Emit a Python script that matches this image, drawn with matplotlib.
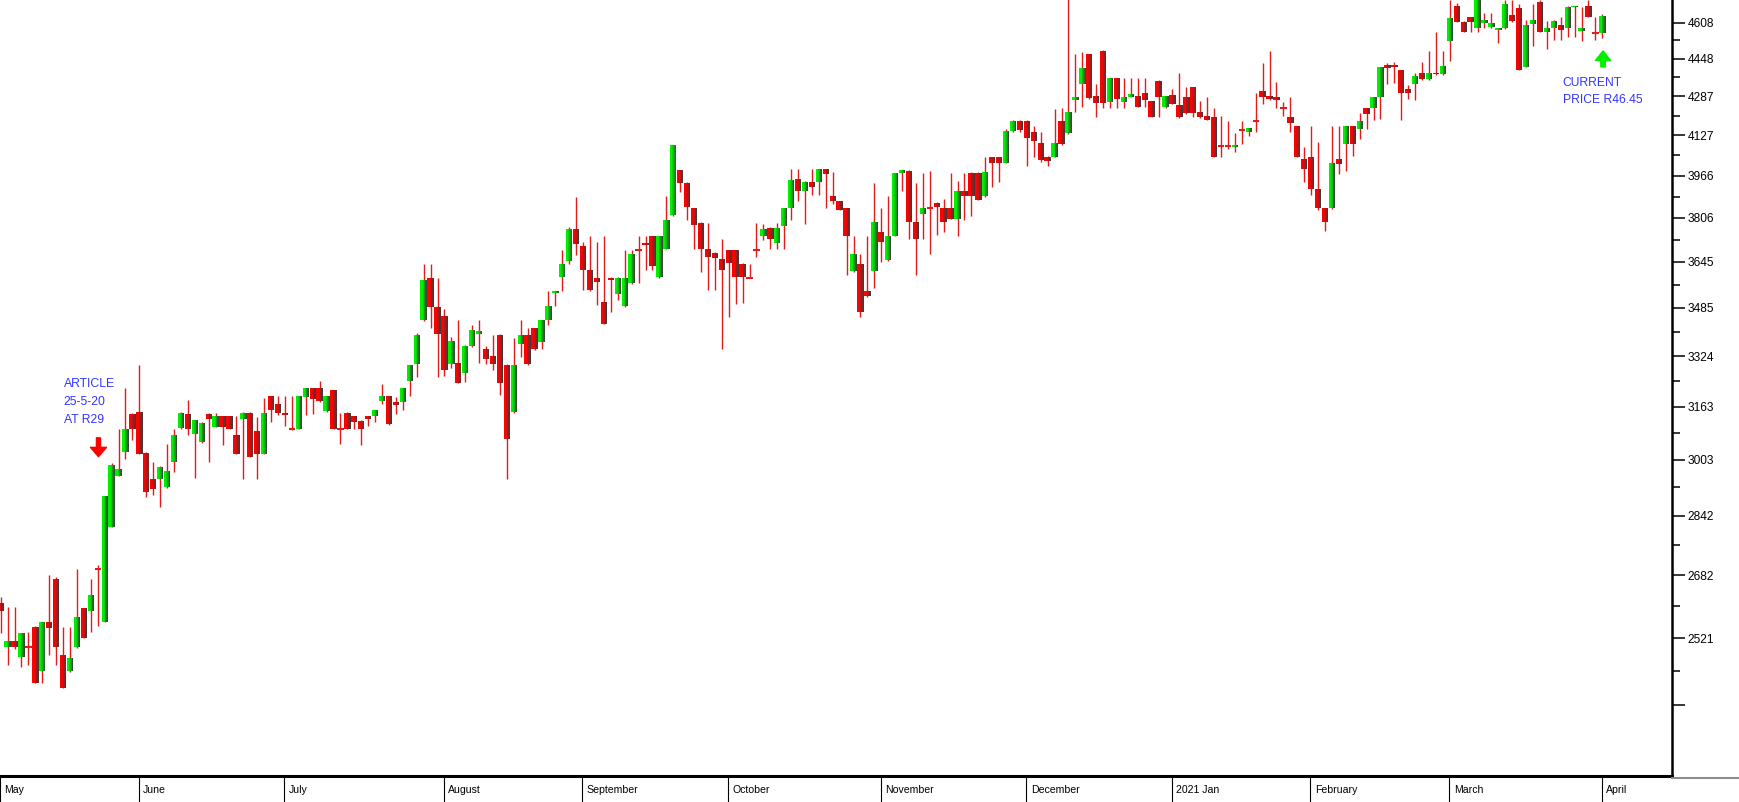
# %% imports

import matplotlib
matplotlib.use('Agg')
import matplotlib.pyplot as plt
import numpy as np
from matplotlib.colors import to_rgb
from matplotlib.lines import Line2D
from matplotlib.ticker import FixedLocator, FixedFormatter, NullFormatter
from matplotlib.transforms import blended_transform_factory

# %% data - daily candles (cents), May 2020 -> 1 April 2021

opens = [2609, 2500, 2514, 2476, 2500, 2550, 2442, 2562, 2673, 2480,
         2442, 2500, 2596, 2590, 2697, 2562, 2811, 2956, 3026, 3142,
         3147, 3023, 2948, 2948, 2924, 2996, 3098, 3139, 3079, 3056,
         3142, 3101, 3133, 3133, 3076, 3126, 3145, 3088, 3021, 3195,
         3173, 3145, 3094, 3096, 3193, 3220, 3220, 3150, 3214, 3094,
         3145, 3133, 3118, 3133, 3134, 3181, 3195, 3178, 3178, 3244,
         3298, 3444, 3589, 3488, 3457, 3298, 3301, 3268, 3357, 3395,
         3346, 3323, 3393, 3295, 3147, 3362, 3393, 3415, 3371, 3445,
         3536, 3591, 3648, 3765, 3701, 3615, 3589, 3503, 3588, 3531,
         3491, 3570, 3689, 3713, 3738, 3591, 3692, 3816, 3988, 3939,
         3841, 3788, 3692, 3677, 3656, 3686, 3686, 3639, 3589, 3689,
         3739, 3769, 3713, 3776, 3844, 3952, 3909, 3943, 3943, 3991,
         3888, 3869, 3841, 3612, 3639, 3541, 3612, 3754, 3652, 3739,
         3975, 3986, 3790, 3822, 3841, 3862, 3841, 3841, 3803, 3906,
         3978, 3978, 3888, 4038, 4038, 4017, 4145, 4185, 4185, 4138,
         4094, 4040, 4040, 4185, 4134, 4272, 4337, 4467, 4288, 4482,
         4265, 4363, 4265, 4285, 4288, 4302, 4267, 4353, 4241, 4292,
         4251, 4283, 4325, 4220, 4205, 4202, 4083, 4083, 4080, 4148,
         4141, 4185, 4309, 4288, 4283, 4237, 4200, 4164, 4030, 4038,
         3913, 3841, 3841, 4030, 4091, 4164, 4151, 4237, 4237, 4283,
         4420, 4420, 4398, 4316, 4339, 4384, 4359, 4387, 4381, 4526,
         4683, 4612, 4631, 4582, 4607, 4586, 4574, 4582, 4642, 4672,
         4412, 4601, 4703, 4567, 4582, 4597, 4582, 4677, 4571, 4683,
         4559, 4559]

highs = [2626, 2600, 2600, 2533, 2537, 2552, 2562, 2682, 2678, 2550,
         2550, 2699, 2598, 2673, 2708, 2897, 2993, 3096, 3223, 3145,
         3294, 3025, 2996, 2984, 3051, 3096, 3147, 3183, 3123, 3116,
         3145, 3145, 3135, 3135, 3133, 3147, 3147, 3131, 3190, 3197,
         3195, 3195, 3195, 3197, 3222, 3222, 3243, 3197, 3216, 3145,
         3147, 3135, 3123, 3135, 3154, 3233, 3197, 3193, 3222, 3296,
         3400, 3636, 3638, 3589, 3482, 3387, 3442, 3359, 3426, 3442,
         3357, 3393, 3395, 3297, 3382, 3442, 3418, 3417, 3444, 3543,
         3543, 3689, 3770, 3885, 3717, 3738, 3717, 3738, 3590, 3591,
         3689, 3689, 3738, 3738, 3740, 3740, 3888, 4089, 3990, 3941,
         3843, 3790, 3788, 3679, 3729, 3688, 3688, 3641, 3639, 3785,
         3783, 3771, 3785, 3843, 3991, 3991, 3945, 3991, 3993, 3993,
         3982, 3871, 3843, 3738, 3674, 3738, 3937, 3841, 3888, 3977,
         3990, 3988, 3937, 3975, 3986, 3864, 3878, 3975, 3946, 3975,
         3980, 3980, 4040, 4040, 4040, 4150, 4190, 4190, 4187, 4164,
         4138, 4042, 4233, 4237, 4800, 4467, 4475, 4469, 4337, 4484,
         4365, 4365, 4363, 4363, 4363, 4363, 4269, 4355, 4290, 4316,
         4384, 4325, 4327, 4269, 4283, 4237, 4205, 4186, 4134, 4186,
         4157, 4299, 4430, 4481, 4346, 4262, 4283, 4166, 4078, 4164,
         4100, 3843, 4164, 4164, 4166, 4166, 4217, 4239, 4285, 4412,
         4430, 4432, 4400, 4335, 4387, 4433, 4482, 4564, 4482, 4711,
         4695, 4614, 4633, 4740, 4652, 4652, 4584, 4711, 4711, 4692,
         4619, 4692, 4711, 4616, 4618, 4631, 4682, 4685, 4680, 4711,
         4634, 4645]

lows = [2533, 2456, 2495, 2452, 2456, 2413, 2413, 2480, 2456, 2401,
        2440, 2498, 2521, 2537, 2551, 2562, 2811, 2955, 3006, 3061,
        3019, 2895, 2900, 2867, 2922, 2967, 3096, 3076, 2950, 3054,
        2996, 3100, 3048, 3094, 3019, 2948, 3011, 2948, 3019, 3116,
        3136, 3103, 3092, 3094, 3136, 3142, 3179, 3148, 3094, 3051,
        3094, 3096, 3048, 3103, 3116, 3170, 3107, 3139, 3154, 3196,
        3257, 3440, 3415, 3257, 3259, 3284, 3236, 3241, 3355, 3301,
        3298, 3278, 3199, 2948, 3145, 3322, 3296, 3345, 3346, 3426,
        3491, 3541, 3638, 3671, 3545, 3541, 3494, 3429, 3471, 3513,
        3489, 3568, 3570, 3617, 3615, 3589, 3690, 3814, 3904, 3796,
        3692, 3608, 3545, 3545, 3347, 3455, 3498, 3500, 3587, 3662,
        3723, 3692, 3690, 3690, 3799, 3871, 3783, 3893, 3893, 3842,
        3859, 3835, 3600, 3610, 3455, 3523, 3554, 3643, 3650, 3737,
        3906, 3729, 3600, 3729, 3674, 3743, 3755, 3801, 3739, 3799,
        3813, 3872, 3886, 3921, 3943, 4015, 4140, 4140, 4004, 4040,
        4020, 4004, 4038, 4088, 4132, 4223, 4244, 4277, 4202, 4237,
        4237, 4237, 4237, 4283, 4242, 4244, 4200, 4202, 4239, 4253,
        4198, 4214, 4202, 4198, 4187, 4038, 4040, 4070, 4061, 4091,
        4125, 4141, 4255, 4273, 4237, 4205, 4141, 4040, 3943, 3891,
        3837, 3757, 3839, 3971, 3986, 4045, 4110, 4151, 4189, 4192,
        4339, 4342, 4189, 4275, 4272, 4357, 4357, 4379, 4379, 4437,
        4610, 4567, 4567, 4567, 4582, 4584, 4518, 4580, 4610, 4398,
        4410, 4503, 4565, 4492, 4532, 4532, 4544, 4544, 4526, 4632,
        4532, 4537]

closes = [2590, 2514, 2500, 2533, 2500, 2413, 2562, 2546, 2500, 2401,
          2472, 2575, 2521, 2630, 2697, 2897, 2987, 2977, 3096, 3096,
          3019, 2909, 2919, 2982, 2969, 3076, 3145, 3096, 3121, 3114,
          3126, 3133, 3101, 3096, 3019, 3145, 3011, 3021, 3145, 3152,
          3145, 3136, 3094, 3195, 3220, 3186, 3181, 3195, 3096, 3094,
          3096, 3116, 3096, 3124, 3152, 3195, 3109, 3167, 3220, 3294,
          3393, 3582, 3488, 3395, 3278, 3373, 3236, 3357, 3409, 3407,
          3314, 3298, 3236, 3066, 3295, 3393, 3298, 3347, 3442, 3490,
          3541, 3638, 3765, 3708, 3615, 3545, 3574, 3429, 3582, 3589,
          3589, 3674, 3689, 3707, 3632, 3738, 3796, 4087, 3939, 3845,
          3779, 3690, 3662, 3659, 3617, 3641, 3591, 3591, 3589, 3689,
          3764, 3727, 3769, 3841, 3949, 3906, 3943, 3924, 3991, 3973,
          3871, 3837, 3739, 3674, 3471, 3525, 3790, 3717, 3738, 3975,
          3988, 3790, 3729, 3841, 3841, 3845, 3790, 3803, 3906, 3888,
          3888, 3874, 3979, 4017, 4017, 4145, 4185, 4148, 4114, 4104,
          4029, 4024, 4094, 4090, 4220, 4285, 4406, 4279, 4258, 4260,
          4363, 4275, 4283, 4296, 4244, 4272, 4202, 4285, 4288, 4255,
          4200, 4216, 4216, 4200, 4189, 4040, 4083, 4083, 4087, 4148,
          4155, 4185, 4285, 4275, 4272, 4237, 4178, 4040, 3991, 3913,
          3841, 3790, 4014, 4011, 4164, 4091, 4185, 4214, 4283, 4410,
          4406, 4410, 4302, 4302, 4373, 4359, 4384, 4381, 4415, 4627,
          4612, 4567, 4612, 4720, 4619, 4604, 4582, 4692, 4616, 4398,
          4597, 4619, 4567, 4582, 4616, 4574, 4680, 4683, 4582, 4634,
          4559, 4640]

month_labels = ['May', 'June', 'July', 'August', 'September', 'October',
                'November', 'December', '2021 Jan', 'February', 'March', 'April']
month_starts = [0, 20, 41, 64, 84, 105, 127, 148, 169, 189, 209, 231]

y_ticks = [4608, 4448, 4287, 4127, 3966, 3806, 3645, 3485, 3324, 3163,
           3003, 2842, 2682, 2521, 2361]
y_tick_labels = ['4608', '4448', '4287', '4127', '3966', '3806', '3645', '3485',
                 '3324', '3163', '3003', '2842', '2682', '2521', '']

# %% params

OUT_FILE = 'out.png'
UP = '#00f000'
DOWN = '#ff0000'
WICK = '#e01c1c'
SHADE = '#3a3a3a'
BLUE = '#3535ff'
FONT = 'Liberation Sans'

# %% prep

opens = np.array(opens, float)
highs = np.array(highs, float)
lows = np.array(lows, float)
closes = np.array(closes, float)
idx = np.arange(len(opens))

flat = closes == opens
up = closes > opens
body_lo = np.minimum(opens, closes)
body_hi = np.maximum(opens, closes)

# %% make plot

fig = plt.figure(figsize=(17.39, 8.02), dpi=100)
ax = fig.add_axes([0, 26 / 802, 1671.7 / 1739, 776 / 802])
ax.set_yscale('log')

# wicks are red on every candle
ax.vlines(idx, lows, highs, color=WICK, lw=1.0, zorder=2)

# bodies drawn as strips, bright on the left fading to grey on the right
w = 0.9
n = 8
base = np.array([to_rgb(UP) if u else to_rgb(DOWN) for u in up])
shade = np.array(to_rgb(SHADE))
m = ~flat
for k in range(n):
    t = (k + 0.5) / n
    f = np.clip((t - 0.3) / 0.7, 0, 1) ** 1.1
    col = base * (1 - f) + shade * f
    ax.bar(idx[m] - w / 2 + (k + 0.5) * w / n, (body_hi - body_lo)[m],
           width=w / n * 1.15, bottom=body_lo[m], color=col[m], lw=0, zorder=3)

# doji candles
ax.hlines(opens[flat], idx[flat] - w / 2, idx[flat] + w / 2, color=WICK, lw=1.5, zorder=3)

ax.set_xlim(-0.1, 241.0)
ax.set_ylim(2203, 4711)

# axes look
for s in ['left', 'top']:
    ax.spines[s].set_visible(False)
ax.spines['right'].set_linewidth(1.8)
ax.spines['bottom'].set_linewidth(2.2)
ax.set_xticks([])
ax.yaxis.tick_right()
ax.yaxis.set_major_locator(FixedLocator(y_ticks))
ax.yaxis.set_major_formatter(FixedFormatter(y_tick_labels))
mids = [(a + b) / 2 for a, b in zip(y_ticks[:-1], y_ticks[1:])]
ax.yaxis.set_minor_locator(FixedLocator(mids))
ax.yaxis.set_minor_formatter(NullFormatter())
ax.tick_params(axis='y', which='major', length=9.5, width=1.1, direction='out',
               pad=2, labelsize=8.6, labelfontfamily=FONT)
ax.tick_params(axis='y', which='minor', length=5.8, width=1.1, direction='out')

# month strip under the chart
trans = blended_transform_factory(ax.transData, ax.transAxes)
for s, lab in zip(month_starts, month_labels):
    ax.plot([s - 0.1, s - 0.1], [0, -26 / 776], transform=trans, color='black',
            lw=0.8, clip_on=False)
    ax.text(s + 0.55, -14 / 776, lab, transform=trans, ha='left', va='center',
            fontsize=7.6, family=FONT)
fig.add_artist(Line2D([1671.7 / 1739, 1], [1 - 778 / 802] * 2, color='#8c8c8c', lw=1.5))

# annotations
ax.text(9.1, 3253, 'ARTICLE\n25-5-20\nAT R29', color=BLUE, fontsize=8.8,
        family=FONT, ha='left', va='top', linespacing=1.65)
ax.annotate('', xy=(14.1, 3012), xytext=(14.1, 3068),
            arrowprops=dict(width=2.9, headwidth=11.5, headlength=6.7,
                            color='#ff0000', shrink=0))
ax.text(225.3, 4369, 'CURRENT\nPRICE R46.45', color=BLUE, fontsize=8.7,
        family=FONT, ha='left', va='top', linespacing=1.6)
ax.annotate('', xy=(231.1, 4482), xytext=(231.1, 4412),
            arrowprops=dict(width=3.2, headwidth=11, headlength=7,
                            color='#00ee00', shrink=0))

fig.savefig(OUT_FILE, dpi=100)
